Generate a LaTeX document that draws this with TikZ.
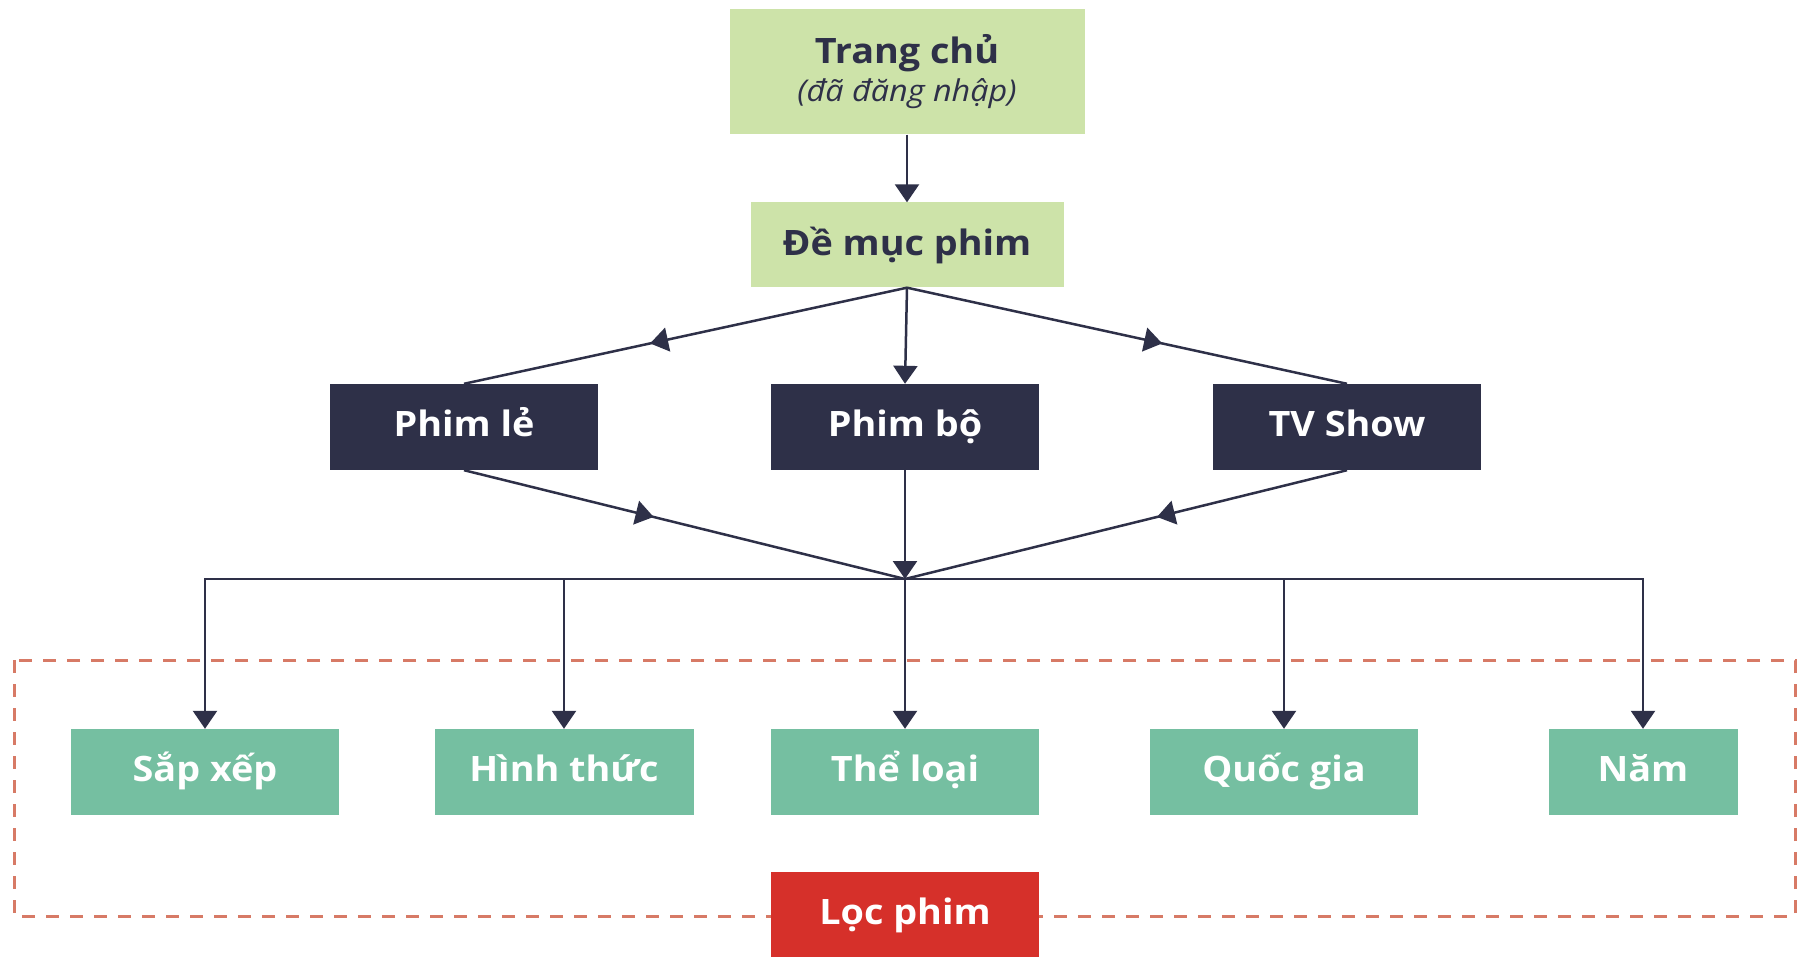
\documentclass[tikz,border=0pt]{standalone}
\usepackage{fontspec}
\setmainfont{Open Sans}[FakeStretch=1.08]
\usetikzlibrary{arrows.meta, decorations.markings}
\definecolor{paleGreen}{HTML}{CDE3A9}
\definecolor{navyBox}{HTML}{2E3048}
\definecolor{tealBox}{HTML}{75BFA1}
\definecolor{redBox}{HTML}{D6302A}
\definecolor{dashLine}{HTML}{D77A66}
\tikzset{
  topbox/.style={fill=paleGreen, text=navyBox, inner sep=0pt, align=center,
    font=\bfseries\fontsize{35}{38}\selectfont},
  catbox/.style={fill=navyBox, text=white, inner sep=0pt, minimum width=268pt,
    minimum height=86pt, text height=26pt, text depth=8pt,
    font=\bfseries\fontsize{35}{38}\selectfont},
  filterbox/.style={fill=tealBox, text=white, inner sep=0pt, minimum width=268pt,
    minimum height=86pt, text height=26pt, text depth=8pt,
    font=\bfseries\fontsize{35}{38}\selectfont},
  redbox/.style={fill=redBox, text=white, inner sep=0pt, minimum width=268pt,
    minimum height=86pt, text height=26pt, text depth=8pt,
    font=\bfseries\fontsize{35}{38}\selectfont},
  link/.style={draw=navyBox, line width=2.5pt},
  endtip/.style={-{Triangle[length=18pt,width=24pt]}},
  midtip/.style={postaction={decorate}, decoration={markings,
    mark=at position #1 with {\arrow{Triangle[length=18pt,width=24pt]}}}}
}
\begin{document}
\begin{tikzpicture}[x=1pt,y=-1pt]
  \useasboundingbox[fill=white] (0,0) rectangle (1799,957);
  \draw[dashLine, line width=3pt, dash pattern=on 13pt off 11pt] (14,660) rectangle (1795,916);

  \node[topbox, minimum width=355pt, minimum height=125pt] (trang) at (907,72)
    {Trang chủ\\{\mdseries\itshape\fontsize{30}{34}\selectfont (đã đăng nhập)}};
  \node[topbox, minimum width=313pt, minimum height=85pt] (demuc) at (907,245) {Đề mục phim};

  \node[catbox] (phimle) at (464,427) {Phim lẻ};
  \node[catbox] (phimbo) at (905,427) {Phim bộ};
  \node[catbox] (tvshow) at (1347,427) {TV Show};

  \node[filterbox] (sapxep) at (205,772) {Sắp xếp};
  \node[filterbox, minimum width=259pt] (hinhthuc) at (564,772) {Hình thức};
  \node[filterbox] (theloai) at (905,772) {Thể loại};
  \node[filterbox] (quocgia) at (1284,772) {Quốc gia};
  \node[filterbox, minimum width=189pt] (nam) at (1643,772) {Năm};

  \node[redbox] (loc) at (905,915) {Lọc phim};

  \coordinate (hub) at (905,579);

  \draw[link, endtip] (trang) -- (demuc);
  \draw[link, midtip=0.58] (demuc.south) -- (phimle.north);
  \draw[link, endtip] (demuc.south) -- (phimbo.north);
  \draw[link, midtip=0.58] (demuc.south) -- (tvshow.north);
  \draw[link, midtip=0.43] (phimle.south) -- (hub);
  \draw[link, endtip] (phimbo.south) -- (hub);
  \draw[link, midtip=0.43] (tvshow.south) -- (hub);
  \foreach \f in {sapxep, hinhthuc, theloai, quocgia, nam}
    \draw[link, endtip] (hub) -| (\f.north);
\end{tikzpicture}
\end{document}
